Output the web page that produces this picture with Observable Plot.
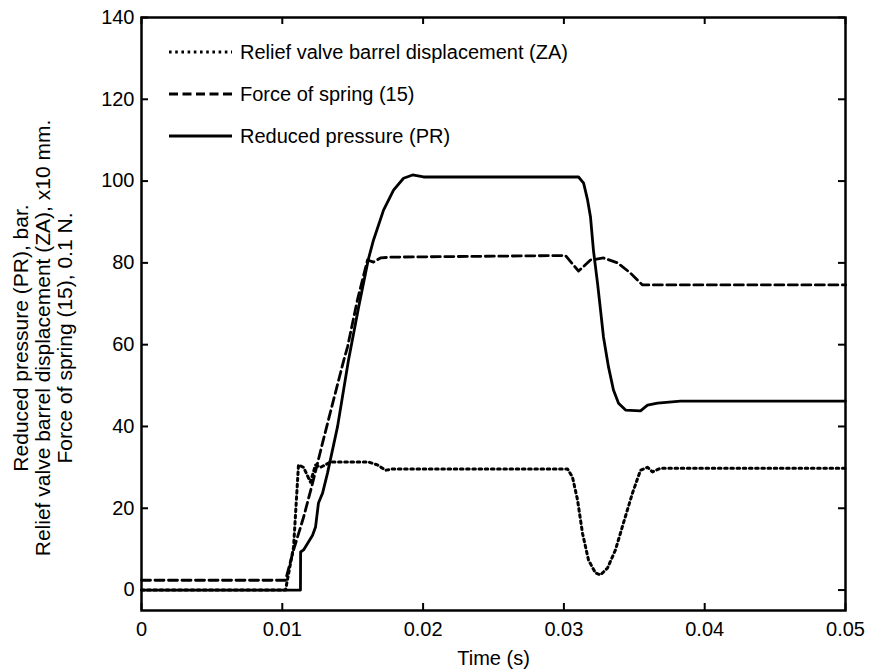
<!DOCTYPE html>
<html>
<head>
<meta charset="utf-8">
<script src="https://cdn.jsdelivr.net/npm/d3@7"></script>
<script src="https://cdn.jsdelivr.net/npm/@observablehq/plot@0.6"></script>
<style>
  html, body { margin: 0; padding: 0; background: white; }
</style>
</head>
<body>
<div id="chart"></div>
<script>
// ---- Data ----
const xTicks = [0, 0.01, 0.02, 0.03, 0.04, 0.05];
const yTicks = [0, 20, 40, 60, 80, 100, 120, 140];

const seriesNames = [
  "Relief valve barrel displacement (ZA)",
  "Force of spring (15)",
  "Reduced pressure (PR)"
];

// Relief valve barrel displacement (ZA), x10 mm
const tZA = [0, 0.01023, 0.0108, 0.01115, 0.01151, 0.0120, 0.01236, 0.01271, 0.01342, 0.01612, 0.01676, 0.01733, 0.01783,
  0.03026, 0.03061, 0.03097, 0.03132, 0.03175, 0.03224, 0.0326, 0.0331, 0.03366, 0.03423, 0.03487, 0.03544, 0.03594, 0.03629, 0.03686, 0.05];
const vZA = [0, 0, 10.5, 30.6, 30, 26.4, 30.6, 30, 31.3, 31.3, 30.6, 29.3, 29.6,
  29.6, 27.6, 22, 13.9, 7.3, 4.2, 3.7, 5.4, 9.8, 16.4, 23.7, 29.3, 30, 28.9, 29.8, 29.8];

// Force of spring (15), 0.1 N
const tSpring = [0, 0.01023, 0.0108, 0.01151, 0.01214, 0.01286, 0.01364, 0.01435, 0.01463, 0.01534, 0.01605, 0.01648, 0.01697, 0.01768,
  0.03011, 0.03104, 0.03189, 0.03281, 0.03381, 0.03473, 0.03558, 0.05];
const vSpring = [2.4, 2.4, 9.8, 17.8, 26, 36, 46.5, 56, 59.4, 71, 80.7, 80.2, 81.2, 81.4,
  81.8, 78, 80.7, 81.2, 80, 77.5, 74.6, 74.6];

// Reduced pressure (PR), bar
const tPR = [0, 0.01129, 0.0113, 0.01151, 0.01215, 0.01236, 0.01257, 0.01286, 0.01321, 0.01392, 0.0147, 0.01541, 0.01612, 0.01648, 0.01719, 0.0179, 0.01861, 0.01925, 0.02003,
  0.03104, 0.0314, 0.03168, 0.03189, 0.0321, 0.03239, 0.0326, 0.03281, 0.03317, 0.03352, 0.03388, 0.03438, 0.03544, 0.03594, 0.03665, 0.03828, 0.05];
const vPR = [0, 0, 9.3, 9.8, 13.4, 15.4, 21.3, 23.7, 28.6, 39.9, 56.2, 69, 81, 85.6, 92.9, 97.8, 100.7, 101.5, 101,
  101, 99.5, 95.4, 91.2, 83, 75, 68.5, 61.9, 54.5, 48.9, 45.7, 44, 43.8, 45.2, 45.7, 46.2, 46.2];

const xLabel = "Time (s)";
const yLabelLines = [
  "Reduced pressure (PR), bar.",
  "Relief valve barrel displacement (ZA), x10 mm.",
  "Force of spring (15), 0.1 N."
];

// ---- Build tables ----
const zip = (ts, vs) => ts.map((t, i) => ({t, v: vs[i]}));
const dataZA = zip(tZA, vZA);
const dataSpring = zip(tSpring, vSpring);
const dataPR = zip(tPR, vPR);

const styles = [
  {dash: "2.6,3.6", width: 3},
  {dash: "9,4.5", width: 2.8},
  {dash: null, width: 2.8}
];

const fmtX = d => d === 0 ? "0" : d.toFixed(2);

const W = 871, H = 671, ML = 141, MR = 26, MT = 17, MB = 61;
const TICK = 7;
const plotW = W - ML - MR, plotH = H - MT - MB;

const legend = (index, scales, values, dims) => {
  const g = d3.create("svg:g").attr("font-size", 20).attr("text-anchor", "start");
  seriesNames.forEach((name, i) => {
    const yy = dims.marginTop + 35 + i * 42;
    const ln = g.append("line")
      .attr("x1", dims.marginLeft + 28).attr("x2", dims.marginLeft + 91)
      .attr("y1", yy).attr("y2", yy)
      .attr("stroke", "black").attr("stroke-width", styles[i].width);
    if (styles[i].dash) ln.attr("stroke-dasharray", styles[i].dash);
    g.append("text")
      .attr("x", dims.marginLeft + 99).attr("y", yy).attr("dy", "0.35em")
      .attr("text-anchor", "start")
      .attr("fill", "black").text(name);
  });
  return g.node();
};

const chart = Plot.plot({
  width: W, height: H,
  marginLeft: ML, marginRight: MR, marginTop: MT, marginBottom: MB,
  style: {fontFamily: "'Liberation Sans', Arial, Helvetica, sans-serif", fontSize: "20px", background: "white", color: "black"},
  x: {domain: [0, 0.05]},
  y: {domain: [-5, 140]},
  marks: [
    Plot.axisX({ticks: xTicks, tickSize: 0, tickPadding: 11, tickFormat: fmtX, label: null, fontSize: 20}),
    Plot.axisY({ticks: yTicks, tickSize: 0, tickPadding: 7, label: null, fontSize: 20}),
    // inward ticks on all four sides
    Plot.tickX(xTicks, {x: d => d, insetTop: plotH - TICK, stroke: "black", strokeWidth: 2}),
    Plot.tickX(xTicks, {x: d => d, insetBottom: plotH - TICK, stroke: "black", strokeWidth: 2}),
    Plot.tickY(yTicks, {y: d => d, insetRight: plotW - TICK, stroke: "black", strokeWidth: 2}),
    Plot.tickY(yTicks, {y: d => d, insetLeft: plotW - TICK, stroke: "black", strokeWidth: 2}),
    Plot.line(dataZA, {x: "t", y: "v", stroke: "black", strokeWidth: styles[0].width, strokeDasharray: styles[0].dash, strokeLinejoin: "round"}),
    Plot.line(dataSpring, {x: "t", y: "v", stroke: "black", strokeWidth: styles[1].width, strokeDasharray: styles[1].dash, strokeLinejoin: "round"}),
    Plot.line(dataPR, {x: "t", y: "v", stroke: "black", strokeWidth: styles[2].width, strokeLinejoin: "round"}),
    Plot.frame({stroke: "black", strokeWidth: 2.5}),
    legend,
    Plot.text([xLabel], {frameAnchor: "bottom", text: d => d, dy: 48, fontSize: 20, fill: "black", lineAnchor: "middle"}),
    Plot.text([yLabelLines.join("\n")], {frameAnchor: "left", text: d => d, rotate: -90, dx: -99, dy: 24, fontSize: 21, lineHeight: 1.05, fill: "black", lineAnchor: "middle", textAnchor: "middle"})
  ]
});

document.getElementById("chart").appendChild(chart);
</script>
</body>
</html>
